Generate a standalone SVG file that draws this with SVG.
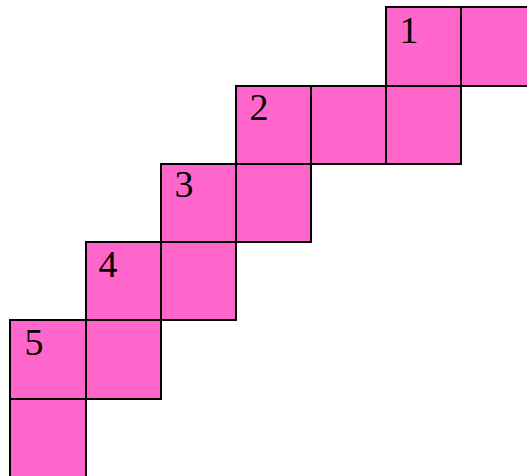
<svg xmlns="http://www.w3.org/2000/svg" width="527" height="476" viewBox="0 0 527 476">
<style>
.sq{fill:#ff66cc;stroke:#000;stroke-width:2}
.lb{font-family:"Liberation Serif","Times New Roman",serif;font-size:38px;fill:#000;text-anchor:middle}
</style>
<rect width="527" height="476" fill="#fff"/>
<g id="row1">
<rect class="sq" x="386" y="7" width="75" height="79"/>
<rect class="sq" x="461" y="7" width="75" height="79"/>
<text class="lb" x="409" y="43">1</text>
</g>
<g id="row2">
<rect class="sq" x="236" y="86" width="75" height="78"/>
<rect class="sq" x="311" y="86" width="75" height="78"/>
<rect class="sq" x="386" y="86" width="75" height="78"/>
<text class="lb" x="259" y="120">2</text>
</g>
<g id="row3">
<rect class="sq" x="161" y="164" width="75" height="78"/>
<rect class="sq" x="236" y="164" width="75" height="78"/>
<text class="lb" x="184" y="197">3</text>
</g>
<g id="row4">
<rect class="sq" x="86" y="242" width="75" height="78"/>
<rect class="sq" x="161" y="242" width="75" height="78"/>
<text class="lb" x="108" y="277">4</text>
</g>
<g id="row5">
<rect class="sq" x="10" y="320" width="76" height="79"/>
<rect class="sq" x="86" y="320" width="75" height="79"/>
<text class="lb" x="34" y="355">5</text>
</g>
<g id="row6">
<rect class="sq" x="10" y="399" width="76" height="79"/>
</g>
<g id="connectors"></g>
</svg>
